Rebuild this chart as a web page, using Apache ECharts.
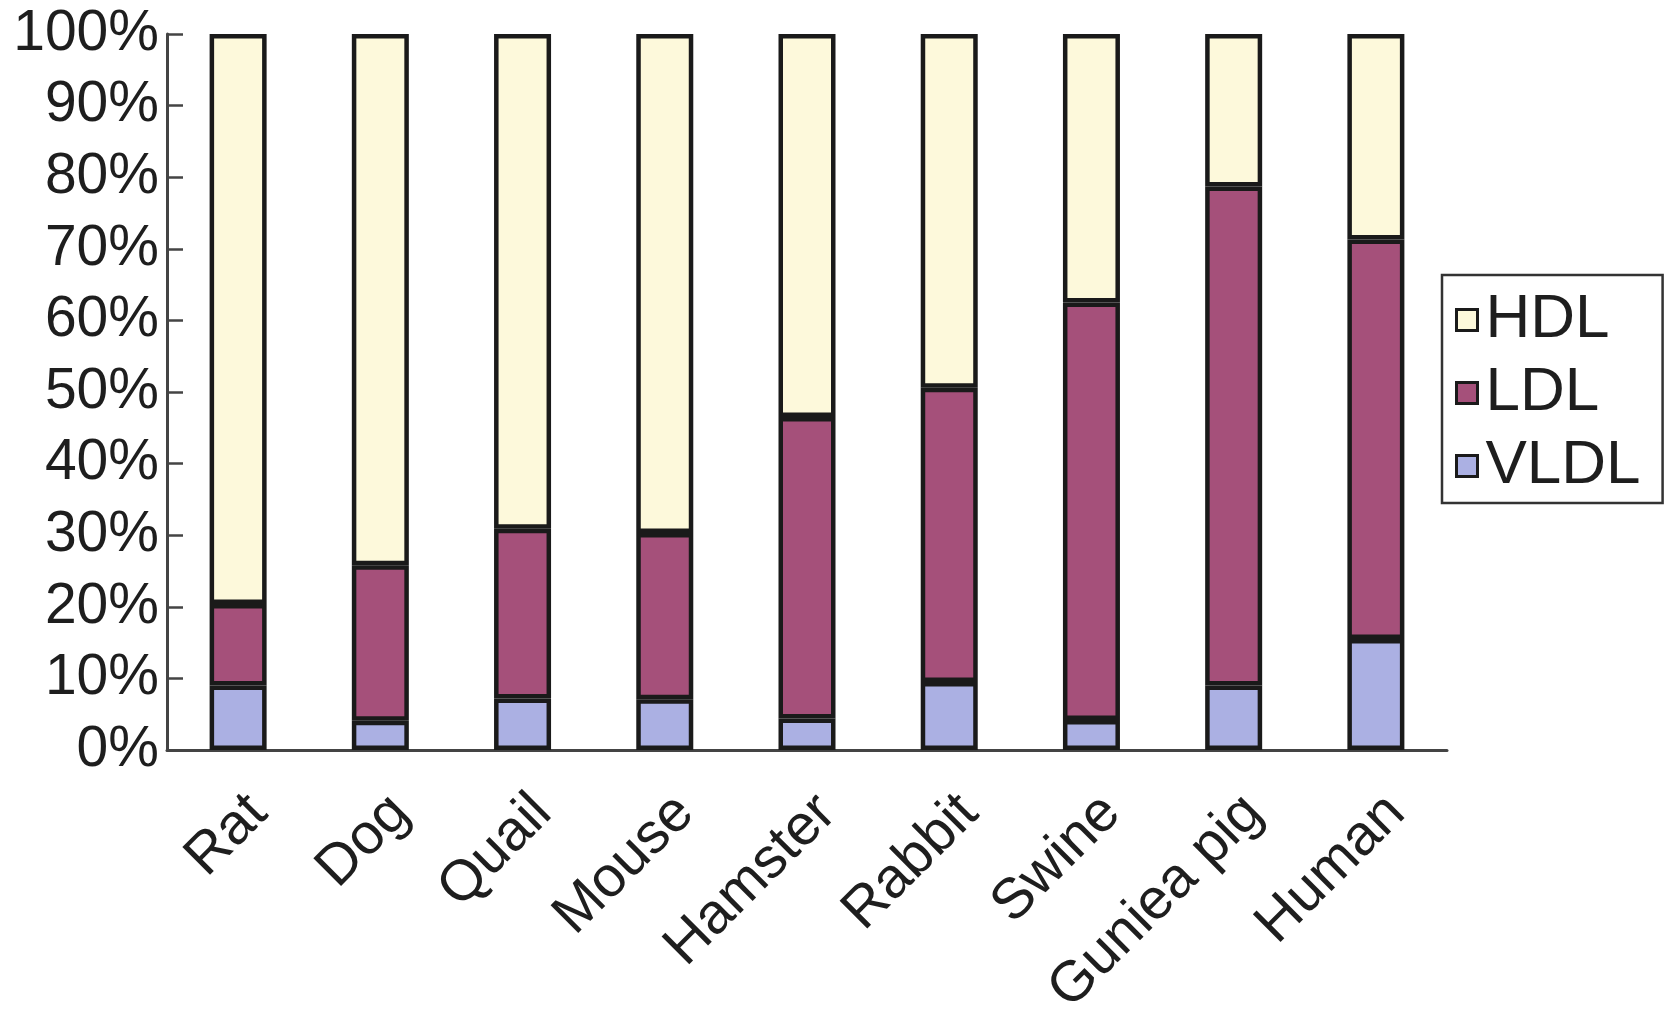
<!DOCTYPE html>
<html>
<head>
<meta charset="utf-8">
<script src="https://cdn.jsdelivr.net/npm/echarts@6/dist/echarts.min.js"></script>
<style>html,body{margin:0;padding:0;background:#fff;}#c{width:1669px;height:1016px;}</style>
</head>
<body>
<div id="c"></div>
<script>
const categories = ['Rat','Dog','Quail','Mouse','Hamster','Rabbit','Swine','Guniea pig','Human'];
const vldl = [9.0, 4.1, 7.2, 7.1, 4.4, 9.5, 4.2, 9.0, 15.5];
const ldl  = [11.4, 21.7, 23.7, 23.2, 42.1, 41.1, 58.3, 69.7, 55.8];
const hdl  = [79.6, 74.2, 69.1, 69.7, 53.5, 49.4, 37.5, 21.3, 28.7];
const yTicks = [0,10,20,30,40,50,60,70,80,90,100];

const font = '"Liberation Sans", Arial, sans-serif';
const txt = '#1e1e1e';
const chart = echarts.init(document.getElementById('c'));
const mk = (name, data, color) => ({
  name, type: 'bar', stack: 'all', data, barWidth: 57,
  itemStyle: { color, borderColor: '#1a1a1a', borderWidth: 4.5 },
  emphasis: { disabled: true }
});
chart.setOption({
  animation: false,
  backgroundColor: '#fff',
  grid: { left: 167, right: 222, top: 34, bottom: 266, containLabel: false, outerBoundsMode: 'none' },
  legend: {
    data: ['HDL','LDL','VLDL'],
    orient: 'vertical',
    left: 1442, top: 275,
    padding: [14, 22, 6, 13],
    borderColor: '#333', borderWidth: 2.5,
    itemWidth: 21, itemHeight: 21, itemGap: 11,
    icon: 'rect',
    itemStyle: { borderColor: '#1a1a1a', borderWidth: 3 },
    textStyle: { fontFamily: font, fontSize: 62, color: txt, lineHeight: 62, padding: [0,0,0,3] }
  },
  xAxis: {
    type: 'category', data: categories,
    axisLine: { lineStyle: { color: '#444', width: 3 } },
    axisTick: { inside: true, length: 16, lineStyle: { color: '#444', width: 2.5 } },
    axisLabel: { rotate: 45, fontFamily: font, fontSize: 57, color: txt, margin: 34, interval: 0,
                 align: 'right', verticalAlign: 'top' }
  },
  yAxis: {
    type: 'value', min: 0, max: 100, interval: 10,
    splitLine: { show: false },
    axisLine: { show: true, lineStyle: { color: '#444', width: 3 } },
    axisTick: { show: true, inside: true, length: 16, lineStyle: { color: '#444', width: 2.5 } },
    axisLabel: {
      fontFamily: font, fontSize: 57, color: txt, margin: 8,
      formatter: v => (yTicks.includes(v) ? v + '%' : '')
    }
  },
  series: [
    mk('VLDL', vldl, '#ABB0E3'),
    mk('LDL', ldl, '#A5507A'),
    mk('HDL', hdl, '#FDF9DB')
  ]
});
</script>
</body>
</html>
